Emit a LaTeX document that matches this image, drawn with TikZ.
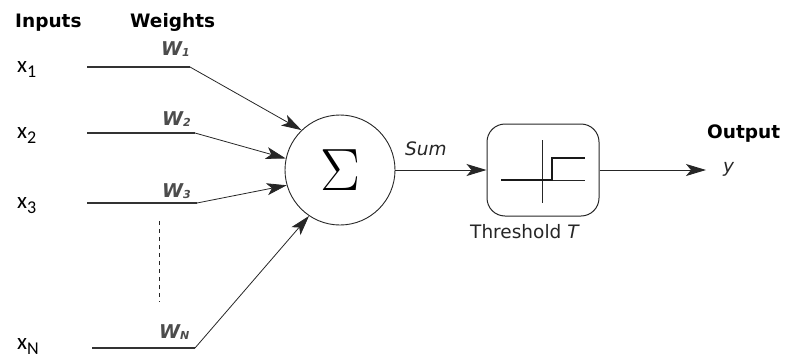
\documentclass[tikz,border=0pt]{standalone}
\usepackage[no-math]{fontspec}
\setmainfont{DejaVu Sans}
\newfontfamily\inputfont{Carlito}
\usepackage{tikz}
\usetikzlibrary{arrows.meta}
\newcommand\insub[1]{x\raisebox{-5pt}{\fontsize{18}{18}\selectfont #1}}
\newcommand\wsub[1]{W\raisebox{-1pt}{\fontsize{11}{11}\selectfont #1}}
\tikzset{
  head/.style   ={font=\fontsize{18.5}{18.5}\selectfont\bfseries, inner sep=0pt,
                  anchor=base west},
  inlabel/.style={font=\inputfont\fontsize{23}{23}\selectfont, inner sep=0pt,
                  anchor=base west},
  wlabel/.style ={font=\fontsize{19}{19}\selectfont\bfseries\itshape,
                  text=black!70, inner sep=0pt, anchor=base west},
  note/.style   ={font=\fontsize{18.5}{18.5}\selectfont, text=black!85,
                  inner sep=0pt, anchor=base west},
  wire/.style   ={line width=1.2pt, draw=black!80},
  tip/.style    ={-{Stealth[length=20pt,width=12pt,inset=5pt]}},
  syn/.style    ={tip, line width=0.8pt, draw=black!85},
  flow/.style   ={tip, line width=1pt, draw=black!85},
  sumnode/.style={circle, draw=black!85, line width=0.9pt, minimum size=110pt,
                  inner sep=0pt},
  thrbox/.style ={rectangle, rounded corners=18pt, draw=black!85, line width=1pt,
                  minimum width=112pt, minimum height=92pt, inner sep=0pt},
  dots/.style   ={line width=0.9pt, draw=black!85, dash pattern=on 4pt off 4pt}
}

\begin{document}
\begin{tikzpicture}[x=1pt,y=-1pt]
  \useasboundingbox (0,0) rectangle (786,359);
  % ---------------- Headings ----------------
  \node[head] (hin)  at (15,27)   {Inputs};
  \node[head] (hw)   at (130,27)  {Weights};
  \node[head] (hout) at (707,138) {Output};

  % ---------------- Inputs ----------------
  \node[inlabel] (x1) at (17,72)  {\insub{1}};
  \node[inlabel] (x2) at (17,138) {\insub{2}};
  \node[inlabel] (x3) at (17,208) {\insub{3}};
  \node[inlabel] (xn) at (17,349) {\insub{N}};
  \coordinate (s1) at (87,67);   \coordinate (k1) at (190,67);
  \coordinate (s2) at (87,133);  \coordinate (k2) at (195,133);
  \coordinate (s3) at (87,203);  \coordinate (k3) at (197,203);
  \coordinate (sn) at (92,348);  \coordinate (kn) at (195,348);
  \coordinate (d1) at (159,221); \coordinate (d2) at (159,302);

  % ---------------- Weights ----------------
  \node[wlabel] (w1) at (161,55)  {\wsub{1}};
  \node[wlabel] (w2) at (162,125) {\wsub{2}};
  \node[wlabel] (w3) at (162,197) {\wsub{3}};
  \node[wlabel] (wn) at (159,338) {\wsub{N}};

  % ---------------- Neuron ----------------
  \node[sumnode] (sum) at (340,170)
    {\fontsize{24.88}{24.88}\selectfont\scalebox{2.4}{$\Sigma$}};
  \node[thrbox]  (thr) at (543,170) {};
  \node[note] (lsum) at (405,155) {\itshape Sum};
  \node[note] (lthr) at (470,238) {Threshold \textit{T}};
  \node[note] (ly)   at (723,172) {\itshape y};
  \coordinate (yend) at (706,170);

  % step function inside the threshold box
  \begin{scope}[shift={(thr.center)}]
    \draw[line width=1pt, black!85] (-1,-30) -- (-1,33);
    \draw[line width=1pt, black!85] (9,10) -- (42,10);
    \draw[line width=2.4pt, black!90] (-42,10) -- (9,10) -- (9,-12) -- (42,-12);
  \end{scope}

  % ---------------- Edges ----------------
  \draw[wire] (s1) -- (k1);
  \draw[wire] (s2) -- (k2);
  \draw[wire] (s3) -- (k3);
  \draw[wire] (sn) -- (kn);
  \draw[dots] (d1) -- (d2);
  \draw[syn] (k1) -- (sum.134);
  \draw[syn] (k2) -- (sum.168);
  \draw[syn] (k3) -- (sum.196);
  \draw[syn] (kn) -- (sum.236);
  \draw[flow] (sum.east) -- (thr.west);
  \draw[flow] (thr.east) -- (yend);
\end{tikzpicture}
\end{document}
